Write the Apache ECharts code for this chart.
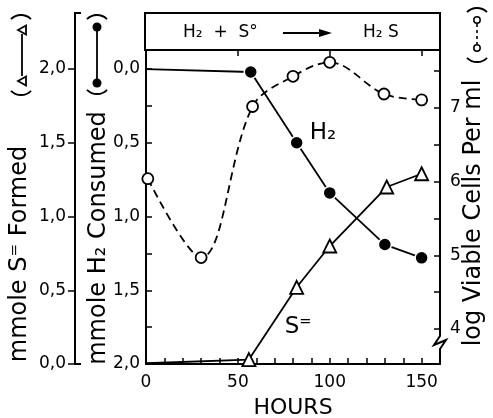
<!DOCTYPE html>
<html><head><meta charset="utf-8">
<script src="https://cdn.jsdelivr.net/npm/echarts@6/dist/echarts.min.js"></script>
<style>html,body{margin:0;padding:0;background:#fff}#c{width:493px;height:418px}</style>
</head><body><div id="c"></div>
<script>
// ---- data ----
const hoursH2 = [0, 57, 82, 100, 130, 150];
const h2Consumed = [0.0, 0.02, 0.5, 0.84, 1.19, 1.28];
const hoursS = [0, 56, 82, 100, 131, 150];
const sFormed = [0.005, 0.03, 0.52, 0.80, 1.20, 1.29];
const hoursCells = [1, 30, 58, 80, 100, 129.5, 150];
const logCells = [6.04, 4.97, 7.02, 7.43, 7.62, 7.19, 7.11];
const xTickLabels = [0, 50, 100, 150];
const mmoleLabels = [0, 0.5, 1.0, 1.5, 2.0];
const mmoleMinor = [0, 0.25, 0.5, 0.75, 1.0, 1.25, 1.5, 1.75, 2.0];
const logLabels = [4, 5, 6, 7];
const logMinor = [4, 4.5, 5, 5.5, 6, 6.5, 7, 7.5];

const FONT = 'DejaVu Sans';
const BLACK = '#000';
const chart = echarts.init(document.getElementById('c'), null, {renderer: 'canvas'});
const comma = v => v.toFixed(1).replace('.', ',');

function pts(xs, ys, firstNoSymbol) {
  return xs.map((x, i) => (firstNoSymbol && i === 0) ? {value: [x, ys[i]], symbol: 'none'} : [x, ys[i]]);
}

const axisLineStyle = {show: true, onZero: false, lineStyle: {color: BLACK, width: 2}};
const tickLine = {color: BLACK, width: 1.5};

// legend-key glyph groups drawn next to the rotated axis titles
function keyArcs(cx, yTop, yBot) {
  const r = 14, t = 0.8;
  return [
    {type: 'arc', shape: {cx: cx, cy: yTop + r, r: r, startAngle: -Math.PI / 2 - t, endAngle: -Math.PI / 2 + t}, style: {stroke: BLACK, lineWidth: 1.8, fill: 'none'}},
    {type: 'arc', shape: {cx: cx, cy: yBot - r, r: r, startAngle: Math.PI / 2 - t, endAngle: Math.PI / 2 + t}, style: {stroke: BLACK, lineWidth: 1.8, fill: 'none'}}
  ];
}
function leftTri(cx, cy) {
  return {type: 'polygon', shape: {points: [[cx - 4, cy], [cx + 4, cy - 4.5], [cx + 4, cy + 4.5]]}, style: {fill: '#fff', stroke: BLACK, lineWidth: 1.8}};
}

const graphics = [
  // header box
  {type: 'rect', shape: {x: 145, y: 13, width: 295, height: 37}, style: {fill: 'none', stroke: BLACK, lineWidth: 2}, z: 10},
  {type: 'text', x: 183, y: 33, style: {text: 'H₂  +  S°', font: '17px "DejaVu Sans"', fill: BLACK, textVerticalAlign: 'middle'}, z: 10},
  {type: 'line', shape: {x1: 283, y1: 33, x2: 322, y2: 33}, style: {stroke: BLACK, lineWidth: 2}, z: 10},
  {type: 'polygon', shape: {points: [[319, 29], [332, 33], [319, 37]]}, style: {fill: BLACK}, z: 10},
  {type: 'text', x: 363, y: 33, style: {text: 'H₂ S', font: '17px "DejaVu Sans"', fill: BLACK, textVerticalAlign: 'middle'}, z: 10},
  // outer left axis extension and end marks
  {type: 'polyline', shape: {points: [[81, 13], [75, 13], [75, 51]]}, style: {stroke: BLACK, lineWidth: 2, fill: 'none'}, z: 10},
  {type: 'line', shape: {x1: 75, y1: 364, x2: 81, y2: 364}, style: {stroke: BLACK, lineWidth: 2}, z: 10},
  // right axis break
  {type: 'rect', shape: {x: 436, y: 334, width: 9, height: 15}, style: {fill: '#fff'}, z: 10},
  {type: 'polyline', shape: {points: [[440, 333], [440, 336], [434, 345], [446, 340], [440, 349], [440, 351]]}, style: {stroke: BLACK, lineWidth: 2, fill: 'none'}, z: 11},
  // curve labels
  {type: 'text', x: 323, y: 133, style: {text: 'H₂', font: '23px "DejaVu Sans"', fill: BLACK, textAlign: 'center', textVerticalAlign: 'middle'}, z: 10},
  {type: 'text', x: 298, y: 327, style: {text: 'S⁼', font: '23px "DejaVu Sans"', fill: BLACK, textAlign: 'center', textVerticalAlign: 'middle'}, z: 10},
  // axis titles (rotated)
  {type: 'text', x: 20, y: 254, rotation: Math.PI / 2, style: {text: 'mmole S⁼ Formed', font: '24px "DejaVu Sans"', fill: BLACK, textAlign: 'center', textVerticalAlign: 'middle'}},
  {type: 'text', x: 99, y: 238, rotation: Math.PI / 2, style: {text: 'mmole H₂ Consumed', font: '24px "DejaVu Sans"', fill: BLACK, textAlign: 'center', textVerticalAlign: 'middle'}},
  {type: 'text', x: 474, y: 213, rotation: Math.PI / 2, style: {text: 'log Viable Cells Per ml', font: '24px "DejaVu Sans"', fill: BLACK, textAlign: 'center', textVerticalAlign: 'middle'}},
  // key: S= (triangles)
  ...keyArcs(21, 15, 95),
  {type: 'line', shape: {x1: 22, y1: 34, x2: 22, y2: 76}, style: {stroke: BLACK, lineWidth: 1.8}},
  leftTri(22, 30), leftTri(22, 81),
  // key: H2 (filled circles)
  ...keyArcs(97, 15, 94),
  {type: 'line', shape: {x1: 97, y1: 28, x2: 97, y2: 82}, style: {stroke: BLACK, lineWidth: 1.8}},
  {type: 'circle', shape: {cx: 97, cy: 27, r: 4.5}, style: {fill: BLACK}},
  {type: 'circle', shape: {cx: 97, cy: 83, r: 4.5}, style: {fill: BLACK}},
  // key: cells (open circles, dashed)
  ...keyArcs(477, 8, 62),
  {type: 'line', shape: {x1: 477, y1: 24, x2: 477, y2: 44}, style: {stroke: BLACK, lineWidth: 1.6, lineDash: [3, 3]}},
  {type: 'circle', shape: {cx: 477, cy: 20, r: 3.2}, style: {fill: '#fff', stroke: BLACK, lineWidth: 1.5}},
  {type: 'circle', shape: {cx: 477, cy: 48, r: 3.2}, style: {fill: '#fff', stroke: BLACK, lineWidth: 1.5}}
];

const option = {
  animation: false,
  backgroundColor: '#fff',
  textStyle: {fontFamily: FONT, color: BLACK},
  grid: {left: 146, right: 53, top: 50, bottom: 54, containLabel: false, outerBoundsMode: 'none'},
  xAxis: [
    {
      type: 'value', min: 0, max: 160, interval: 10, position: 'bottom',
      axisLine: axisLineStyle,
      axisTick: {show: true, inside: true, length: 6, lineStyle: tickLine},
      axisLabel: {
        color: BLACK, fontFamily: FONT, fontSize: 17, margin: 10,
        formatter: v => (xTickLabels.indexOf(v) >= 0 ? String(v) : '')
      },
      splitLine: {show: false},
      name: 'HOURS', nameLocation: 'middle', nameGap: 33,
      nameTextStyle: {fontFamily: FONT, fontSize: 22, color: BLACK}
    },
    {
      type: 'value', min: 0, max: 160, interval: 50, position: 'top',
      axisLine: axisLineStyle,
      axisTick: {show: true, inside: true, length: 6, lineStyle: tickLine},
      axisLabel: {show: false},
      splitLine: {show: false}
    }
  ],
  yAxis: [
    { // H2 consumed (inverted)
      type: 'value', position: 'left', offset: 0, inverse: true, min: -0.129, max: 2.0,
      axisLine: axisLineStyle,
      axisTick: {show: true, inside: true, length: 6, customValues: mmoleMinor, lineStyle: tickLine},
      axisLabel: {color: BLACK, fontFamily: FONT, fontSize: 17, margin: 6, customValues: mmoleLabels, formatter: comma},
      splitLine: {show: false}
    },
    { // S= formed
      type: 'value', position: 'left', offset: 71, min: 0, max: 2.129,
      axisLine: axisLineStyle,
      axisTick: {show: true, inside: false, length: 7, customValues: mmoleLabels, lineStyle: tickLine},
      axisLabel: {color: BLACK, fontFamily: FONT, fontSize: 17, margin: 9, customValues: mmoleLabels, formatter: comma},
      splitLine: {show: false}
    },
    { // log viable cells
      type: 'value', position: 'right', offset: 0, min: 3.525, max: 7.787,
      axisLine: axisLineStyle,
      axisTick: {show: true, inside: true, length: 6, customValues: logMinor, lineStyle: tickLine},
      axisLabel: {color: BLACK, fontFamily: FONT, fontSize: 17, margin: 10, customValues: logLabels, formatter: v => String(Math.round(v))},
      splitLine: {show: false}
    }
  ],
  series: [
    {
      name: 'H2 consumed', type: 'line', xAxisIndex: 0, yAxisIndex: 0,
      data: pts(hoursH2, h2Consumed, true),
      symbol: 'circle', symbolSize: 13,
      itemStyle: {color: BLACK, borderColor: '#fff', borderWidth: 1.5},
      lineStyle: {color: BLACK, width: 1.8}, z: 4
    },
    {
      name: 'S= formed', type: 'line', xAxisIndex: 0, yAxisIndex: 1,
      data: pts(hoursS, sFormed, true),
      symbol: 'triangle', symbolSize: 13,
      itemStyle: {color: '#fff', borderColor: BLACK, borderWidth: 1.8},
      lineStyle: {color: BLACK, width: 1.8}, z: 3
    },
    {
      name: 'log viable cells', type: 'line', xAxisIndex: 0, yAxisIndex: 2,
      data: pts(hoursCells, logCells, false),
      smooth: 0.35,
      symbol: 'circle', symbolSize: 11,
      itemStyle: {color: '#fff', borderColor: BLACK, borderWidth: 1.8},
      lineStyle: {color: BLACK, width: 1.8, type: [8, 5]}, z: 2
    }
  ],
  graphic: graphics
};
chart.setOption(option);
</script>
</body></html>
